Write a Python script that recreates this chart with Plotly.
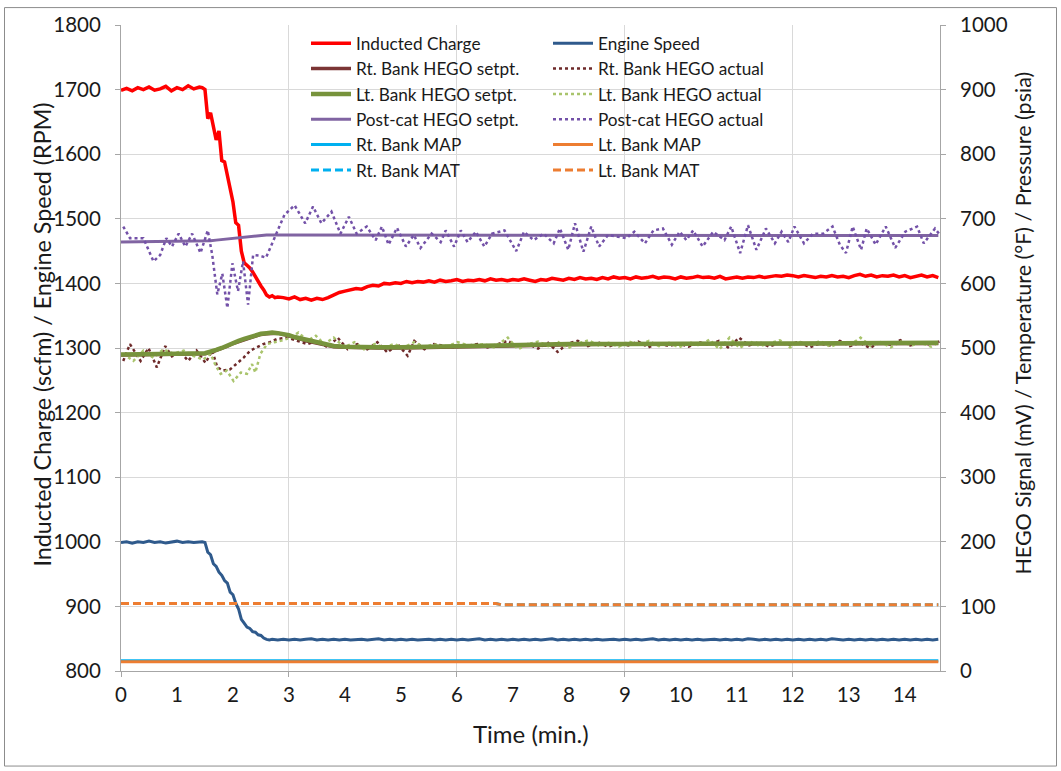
import plotly.graph_objects as go

# ---- sampling grid for the fast channels (minutes) ----
minutes = ([round(i * 0.1, 2) for i in range(0, 15)]
           + [round(1.45 + i * 0.05, 2) for i in range(0, 28)]
           + [round(2.9 + i * 0.1, 2) for i in range(0, 118)])

# Inducted charge (scfm)
inducted_charge = [
    1699, 1702, 1698, 1703, 1700, 1704, 1699, 1701, 1705, 1698, 1703, 1700, 1706, 1701, 1704,
    1703, 1700, 1655, 1664, 1640, 1622, 1636, 1590, 1588, 1566, 1546, 1526, 1494, 1490,
    1450, 1432, 1428, 1424, 1418, 1410, 1402, 1396, 1390, 1382, 1379, 1381, 1378, 1379,
    1378,
    1376, 1379, 1375, 1377, 1374, 1377, 1375, 1378, 1382, 1386,
    1388, 1390, 1392, 1391, 1395, 1397, 1396, 1400, 1399, 1401,
    1400, 1403, 1401, 1403, 1402, 1404, 1402, 1405, 1403, 1404,
    1406, 1403, 1405, 1404, 1406, 1404, 1407, 1405, 1406, 1404,
    1406, 1405, 1407, 1405, 1403, 1406, 1405, 1408, 1406, 1405,
    1408, 1406, 1409, 1407, 1408, 1406, 1409, 1407, 1410, 1408,
    1409, 1407, 1410, 1408, 1409, 1411, 1408, 1410, 1409, 1407,
    1410, 1408, 1409, 1411, 1409, 1410, 1408, 1411, 1407, 1409,
    1410, 1408, 1410, 1409, 1411, 1409, 1410, 1412, 1411, 1413,
    1412, 1410, 1412, 1411, 1409, 1411, 1410, 1412, 1410, 1411,
    1409, 1412, 1414, 1411, 1413, 1410, 1412, 1411, 1413, 1410,
    1412, 1409, 1411, 1413, 1410, 1412, 1409,
]

# Engine speed (RPM)
engine_speed = [
    999, 1000, 998, 1000, 999, 1001, 999, 1000, 998, 1000, 1001, 999, 1000, 999, 1000,
    1000, 999, 984, 980, 966, 962, 953, 948, 940, 936, 922, 918, 905, 896,
    880, 874, 868, 866, 861, 860, 856, 855, 851, 849, 848, 849, 848, 848,
    849,
    848, 849, 848, 849, 850, 848, 849, 848, 849, 848,
    849, 848, 849, 849, 848, 849, 850, 848, 849, 848,
    849, 848, 849, 848, 849, 849, 848, 849, 848, 849,
    848, 849, 848, 849, 850, 848, 849, 848, 849, 848,
    849, 848, 849, 848, 849, 848, 849, 850, 848, 849,
    848, 849, 848, 849, 848, 849, 848, 849, 849, 848,
    849, 848, 849, 848, 849, 850, 848, 849, 848, 849,
    848, 849, 848, 849, 848, 849, 849, 848, 849, 848,
    849, 848, 850, 849, 848, 849, 848, 849, 848, 849,
    848, 849, 848, 849, 848, 849, 848, 850, 849, 848,
    849, 848, 849, 848, 849, 848, 849, 848, 849, 848,
    849, 848, 849, 848, 849, 848, 849,
]

# HEGO setpoints (mV)
setpt_minutes = [0, 0.5, 1.0, 1.5, 1.6, 1.7, 1.8, 1.9, 2.0, 2.1, 2.2, 2.3, 2.4, 2.5, 2.6,
                 2.7, 2.8, 2.9, 3.0, 3.1, 3.2, 3.3, 3.4, 3.5, 3.6, 3.8, 4.0, 4.3, 4.6,
                 5.0, 5.5, 6.0, 7.0, 8.0, 9.0, 10.0, 11.0, 12.0, 13.0, 14.0, 14.6]
rt_hego_setpt = [489, 490, 490, 491, 493, 496, 499, 503, 507, 510, 513, 516, 519, 521, 522,
                 523, 523, 521, 519, 516, 514, 511, 509, 507, 505, 502, 501, 500, 500,
                 500, 501, 502, 504, 505, 506, 506, 506, 507, 507, 507, 507]
lt_hego_setpt = [490, 490, 491, 492, 494, 497, 500, 504, 508, 511, 514, 517, 520, 522, 523,
                 524, 523, 522, 520, 517, 515, 512, 510, 508, 506, 503, 502, 501, 501,
                 501, 502, 503, 505, 506, 506, 507, 507, 507, 508, 508, 508]

postcat_setpt_minutes = [0, 1.5, 1.6, 1.7, 1.8, 1.9, 2.0, 2.1, 2.2, 2.3, 2.4, 2.5, 2.6,
                         2.8, 3.5, 5.0, 7.0, 9.0, 11.0, 13.0, 14.6]
postcat_setpt = [664, 665, 666, 667, 668, 669, 670, 671, 672, 673, 674, 674, 675,
                 675, 675, 675, 674, 674, 674, 674, 674]

# HEGO actual signals (mV)
rt_actual_minutes = [0.04, 0.16, 0.35, 0.49, 0.64, 0.79, 0.91, 1.06, 1.20, 1.35, 1.51, 1.63,
                     1.72, 1.83, 1.95, 2.06, 2.19, 2.31, 2.43, 2.54, 2.66, 2.79, 2.97, 3.15,
                     3.33, 3.51, 3.69, 3.87, 4.05, 4.22, 4.40, 4.58, 4.76, 4.94, 5.12, 5.24,
                     5.42, 5.59, 5.78, 5.95, 6.13, 6.37, 6.55, 6.72, 6.91, 7.09, 7.27, 7.45,
                     7.63, 7.80, 7.98, 8.16, 8.34, 8.52, 8.70, 8.88, 9.06, 9.24, 9.42, 9.60,
                     9.78, 9.96, 10.14, 10.32, 10.50, 10.68, 10.86, 11.04, 11.22, 11.40,
                     11.58, 11.76, 11.94, 12.12, 12.30, 12.48, 12.66, 12.84, 13.02, 13.20,
                     13.38, 13.56, 13.74, 13.92, 14.10, 14.28, 14.46, 14.62]
rt_hego_actual = [480, 506, 480, 500, 470, 503, 487, 494, 480, 496, 477, 496,
                  470, 465, 467, 475, 485, 496, 501, 506, 509, 514, 516, 511,
                  506, 511, 501, 516, 498, 506, 498, 509, 493, 506, 488, 511,
                  498, 506, 503, 501, 503, 506, 501, 506, 511, 503, 506, 499,
                  508, 494, 507, 511, 503, 509, 502, 507, 504, 510, 501, 508,
                  503, 507, 502, 509, 505, 511, 500, 516, 504, 509,
                  502, 508, 505, 510, 501, 507, 504, 511, 503, 508,
                  500, 509, 505, 512, 504, 509, 505, 510]

lt_actual_minutes = [0.04, 0.22, 0.40, 0.58, 0.76, 0.94, 1.12, 1.29, 1.47, 1.60, 1.69, 1.78,
                     1.89, 2.01, 2.14, 2.25, 2.34, 2.40, 2.49, 2.61, 2.74, 2.85, 3.03, 3.17,
                     3.33, 3.48, 3.63, 3.80, 3.99, 4.17, 4.34, 4.53, 4.70, 4.88, 5.05, 5.24,
                     5.42, 5.59, 5.78, 6.01, 6.26, 6.49, 6.66, 6.91, 7.09, 7.27, 7.45, 7.63,
                     7.81, 7.99, 8.17, 8.35, 8.53, 8.71, 8.89, 9.07, 9.25, 9.43, 9.61, 9.79,
                     9.97, 10.15, 10.33, 10.51, 10.69, 10.87, 11.05, 11.23, 11.41, 11.59,
                     11.77, 11.95, 12.13, 12.31, 12.49, 12.67, 12.85, 13.03, 13.21, 13.39,
                     13.57, 13.75, 13.93, 14.11, 14.29, 14.47, 14.62]
lt_hego_actual = [491, 480, 496, 485, 498, 491, 496, 488, 482, 491, 473, 460,
                  465, 449, 462, 460, 475, 462, 491, 506, 509, 511, 516, 524,
                  511, 519, 506, 516, 501, 509, 498, 506, 501, 506, 501, 509,
                  501, 506, 501, 509, 503, 506, 501, 516, 498, 506, 510, 503,
                  509, 500, 507, 512, 504, 508, 502, 510, 505, 511, 503, 508,
                  501, 509, 504, 513, 498, 516, 500, 510, 503, 508,
                  512, 501, 509, 504, 511, 502, 508, 505, 516, 503,
                  509, 501, 510, 504, 508, 502, 509]

postcat_actual_minutes = [0.04, 0.16, 0.40, 0.58, 0.70, 0.81, 0.91, 1.03, 1.15, 1.27, 1.42,
                          1.55, 1.63, 1.72, 1.81, 1.90, 1.99, 2.09, 2.18, 2.27, 2.36, 2.47,
                          2.59, 2.69, 2.81, 2.92, 3.10, 3.29, 3.43, 3.58, 3.76, 3.92, 4.07,
                          4.21, 4.39, 4.55, 4.66, 4.78, 4.93, 5.09, 5.23, 5.35, 5.55, 5.71,
                          5.80, 5.95, 6.07, 6.19, 6.34, 6.49, 6.63, 6.85, 7.06, 7.20, 7.37,
                          7.55, 7.73, 7.84, 7.99, 8.11, 8.26, 8.40, 8.54, 8.70, 8.88, 9.03,
                          9.17, 9.36, 9.51, 9.68, 9.84, 9.98, 10.10, 10.22, 10.39, 10.58,
                          10.78, 10.90, 11.06, 11.20, 11.35, 11.52, 11.68, 11.80, 11.92,
                          12.03, 12.20, 12.36, 12.54, 12.71, 12.84, 12.95, 13.07, 13.22,
                          13.32, 13.48, 13.66, 13.83, 14.01, 14.22, 14.34, 14.54, 14.62]
postcat_actual = [688, 670, 670, 634, 644, 670, 657, 677, 657, 677, 647,
                  682, 644, 583, 615, 562, 631, 588, 634, 567, 644, 643,
                  640, 660, 685, 706, 721, 693, 719, 693, 711, 677, 703,
                  677, 688, 667, 688, 660, 686, 657, 675, 655, 677, 664,
                  682, 657, 682, 664, 680, 657, 677, 682, 650, 680, 667,
                  677, 662, 685, 652, 693, 649, 688, 657, 675, 672, 670,
                  680, 662, 682, 685, 660, 680, 667, 682, 657, 680,
                  667, 688, 647, 690, 652, 685, 662, 680, 664,
                  688, 662, 677, 677, 688, 660, 647, 688, 652,
                  685, 660, 688, 655, 680, 688, 662, 685, 676]

# Manifold pressure (psia) and temperature (°F)
manifold_minutes = [0, 6.7, 6.8, 14.6]
rt_map = [16, 16, 16, 16]
lt_map = [14.5, 14.5, 14.5, 14.5]
rt_mat = [104.5, 104.5, 102.5, 102.5]
lt_mat = [104.5, 104.5, 102.5, 102.5]

x_ticks = list(range(0, 15))

FONT = "Lato, 'Open Sans', sans-serif"
TXT = "#1a1a1a"
GRID = "#d9d9d9"
AXIS = "#a6a6a6"

fig = go.Figure()

def add(name, x, y, color, width, dash=None, yaxis="y", legend="legend", rank=1):
    fig.add_trace(go.Scatter(
        x=x, y=y, name=name, mode="lines", yaxis=yaxis, xaxis="x",
        line=dict(color=color, width=width, dash=dash),
        legend=legend, legendrank=rank, hoverinfo="skip",
    ))

# drawn bottom-to-top
add("Rt. Bank MAP", manifold_minutes, rt_map, "#00b0f0", 3, yaxis="y2", legend="legend", rank=5)
add("Lt. Bank MAP", manifold_minutes, lt_map, "#ed7d31", 3, yaxis="y2", legend="legend2", rank=5)
add("Rt. Bank MAT", manifold_minutes, rt_mat, "#00b0f0", 3, dash="8px,4px", yaxis="y2", legend="legend", rank=6)
add("Lt. Bank MAT", manifold_minutes, lt_mat, "#ed7d31", 3, dash="8px,4px", yaxis="y2", legend="legend2", rank=6)
add("Rt. Bank HEGO setpt.", setpt_minutes, rt_hego_setpt, "#7b3535", 3.5, yaxis="y2", legend="legend", rank=2)
add("Rt. Bank HEGO actual", rt_actual_minutes, rt_hego_actual, "#6e2a2a", 2.5, dash="3px,3px", yaxis="y2", legend="legend2", rank=2)
add("Lt. Bank HEGO actual", lt_actual_minutes, lt_hego_actual, "#a9c46c", 2.5, dash="3px,3px", yaxis="y2", legend="legend2", rank=3)
add("Lt. Bank HEGO setpt.", setpt_minutes, lt_hego_setpt, "#77933c", 4.5, yaxis="y2", legend="legend", rank=3)
add("Post-cat HEGO setpt.", postcat_setpt_minutes, postcat_setpt, "#8064a2", 3, yaxis="y2", legend="legend", rank=4)
add("Post-cat HEGO actual", postcat_actual_minutes, postcat_actual, "#7351a8", 2.5, dash="3px,3px", yaxis="y2", legend="legend2", rank=4)
add("Engine Speed", minutes, engine_speed, "#2f5a8c", 3, legend="legend2", rank=1)
add("Inducted Charge", minutes, inducted_charge, "#ff0000", 3.5, legend="legend", rank=1)

# carrier for the labelled time axis
fig.add_trace(go.Scatter(x=[], y=[], xaxis="x2", yaxis="y", showlegend=False, hoverinfo="skip"))

W, H = 1061, 771
L, R, T, B = 121, 121, 22, 100
pw, ph = W - L - R, H - T - B

def px(xp):
    return (xp - L) / pw

def py(yp):
    return (H - B - yp) / ph

legend_common = dict(
    font=dict(family=FONT, size=17.2, color=TXT),
    bgcolor="rgba(0,0,0,0)", borderwidth=0, orientation="v",
    xanchor="left", yanchor="top", itemwidth=40, traceorder="normal",
    itemclick=False, itemdoubleclick=False,
)

tick_font = dict(family=FONT, size=20.5, color=TXT)

fig.update_layout(
    width=W, height=H,
    margin=dict(l=L, r=R, t=T, b=B),
    paper_bgcolor="white", plot_bgcolor="white",
    font=dict(family=FONT, color=TXT),
    showlegend=True,
    legend=dict(x=px(306), y=py(22.5), **legend_common),
    legend2=dict(x=px(548), y=py(22.5), **legend_common),
    xaxis=dict(
        range=[0, 14.63], tick0=0, dtick=3, showgrid=True, gridcolor=GRID, gridwidth=1,
        showticklabels=False, ticks="outside", ticklen=5, tickcolor=AXIS,
        showline=True, linecolor=AXIS, linewidth=1, zeroline=False, anchor="y",
    ),
    xaxis2=dict(
        range=[0, 14.63], overlaying="x", anchor="y", side="bottom",
        tickmode="array", tickvals=x_ticks, ticktext=[str(v) for v in x_ticks],
        showgrid=False, zeroline=False, showline=False, ticks="",
        tickfont=tick_font, ticklabelstandoff=9,
    ),
    yaxis=dict(
        range=[800, 1800], dtick=100, showgrid=True, gridcolor=GRID, gridwidth=1,
        ticks="outside", ticklen=5, tickcolor=AXIS, showline=True, linecolor=AXIS,
        zeroline=False, tickfont=tick_font, ticklabelstandoff=10,
    ),
    yaxis2=dict(
        range=[0, 1000], dtick=100, overlaying="y", side="right", showgrid=False,
        ticks="outside", ticklen=5, tickcolor=AXIS, showline=True, linecolor=AXIS,
        zeroline=False, tickfont=tick_font, ticklabelstandoff=10,
    ),
    annotations=[
        dict(text="Inducted Charge (scfm) / Engine Speed (RPM)", textangle=-90,
             xref="paper", yref="paper", x=px(42), y=py(333),
             xanchor="center", yanchor="middle", showarrow=False,
             font=dict(family=FONT, size=23.3, color=TXT)),
        dict(text="HEGO Signal (mV) / Temperature (°F) / Pressure (psia)", textangle=-90,
             xref="paper", yref="paper", x=px(1023), y=py(322),
             xanchor="center", yanchor="middle", showarrow=False,
             font=dict(family=FONT, size=21.5, color=TXT)),
        dict(text="Time (min.)", xref="paper", yref="paper", x=px(531), y=py(734),
             xanchor="center", yanchor="middle", showarrow=False,
             font=dict(family=FONT, size=24, color=TXT)),
    ],
    shapes=[
        # white panel behind the legend block
        dict(type="rect", xref="paper", yref="paper", layer="between",
             x0=px(290), x1=px(786), y0=py(183), y1=py(27),
             fillcolor="white", line=dict(width=0)),
        # outer chart frame
        dict(type="rect", xref="paper", yref="paper", layer="above",
             x0=px(4.5), x1=px(1056.5), y0=py(766.5), y1=py(4.5),
             line=dict(color="#8c8c8c", width=1)),
    ],
)

fig.write_html("out.html")
